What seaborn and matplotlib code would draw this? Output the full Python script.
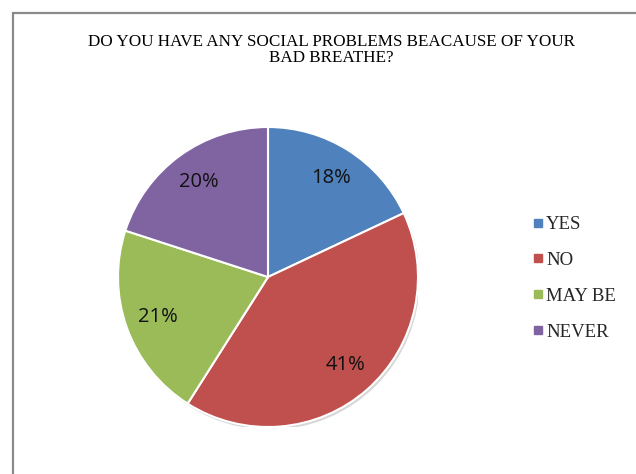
import matplotlib
matplotlib.use("Agg")
import matplotlib.pyplot as plt
import seaborn as sns
from matplotlib.lines import Line2D
from matplotlib.patches import Rectangle, Circle

# Survey answers and their shares (percent)
answers = ["YES", "NO", "MAY BE", "NEVER"]
shares = [18, 41, 21, 20]
slice_colors = ["#4F81BD", "#C0504D", "#9BBB59", "#8064A2"]
title_text = "DO YOU HAVE ANY SOCIAL PROBLEMS BEACAUSE OF YOUR\nBAD BREATHE?"

sns.set_theme(style="white")
plt.rcParams["font.family"] = ["Liberation Serif", "DejaVu Serif"]

W, H = 636, 474
fig = plt.figure(figsize=(W / 100, H / 100), dpi=100)
fig.patch.set_facecolor("white")

# Chart frame (runs off the right and bottom edges)
fig.add_artist(Rectangle((12.5 / W, -0.1), 1.2, (H - 13) / H + 0.1,
                         transform=fig.transFigure, fill=False,
                         edgecolor="#8a8a8a", linewidth=1.6))

cx, cy, r = 268, H - 277, 150
ax = fig.add_axes([(cx - r) / W, (cy - r) / H, 2 * r / W, 2 * r / H])

# soft drop shadow behind the pie
ax.add_patch(Circle((0.012, -0.018), 1.0, color="#bdbdbd", alpha=0.6, zorder=0, lw=0))

wedges, texts, autotexts = ax.pie(
    shares, colors=slice_colors, startangle=90, counterclock=False,
    autopct="%d%%", pctdistance=0.78, radius=1.0,
    wedgeprops=dict(edgecolor="white", linewidth=1.5),
    textprops=dict(fontsize=14.5, family=["Open Sans", "DejaVu Sans"], color="#111111"),
)
for w in wedges:
    w.set_zorder(2)
for t in autotexts:
    t.set_zorder(3)
ax.set_xlim(-1, 1)
ax.set_ylim(-1, 1)
ax.set_aspect("equal")
ax.axis("off")

fig.text(331 / W, 1 - 50 / H, title_text, ha="center", va="center",
         fontsize=12.3, linespacing=0.95, color="black")

handles = [Line2D([], [], marker="s", linestyle="none", markersize=5.5,
                  markerfacecolor=c, markeredgecolor=c) for c in slice_colors]
fig.legend(handles, answers, loc="upper left", bbox_to_anchor=(532 / W, 1 - 216 / H),
           frameon=False, fontsize=13.5, handlelength=0.6, handletextpad=0.15,
           labelspacing=1.0, borderaxespad=0, borderpad=0)

fig.savefig("out.png", dpi=100, facecolor="white")
